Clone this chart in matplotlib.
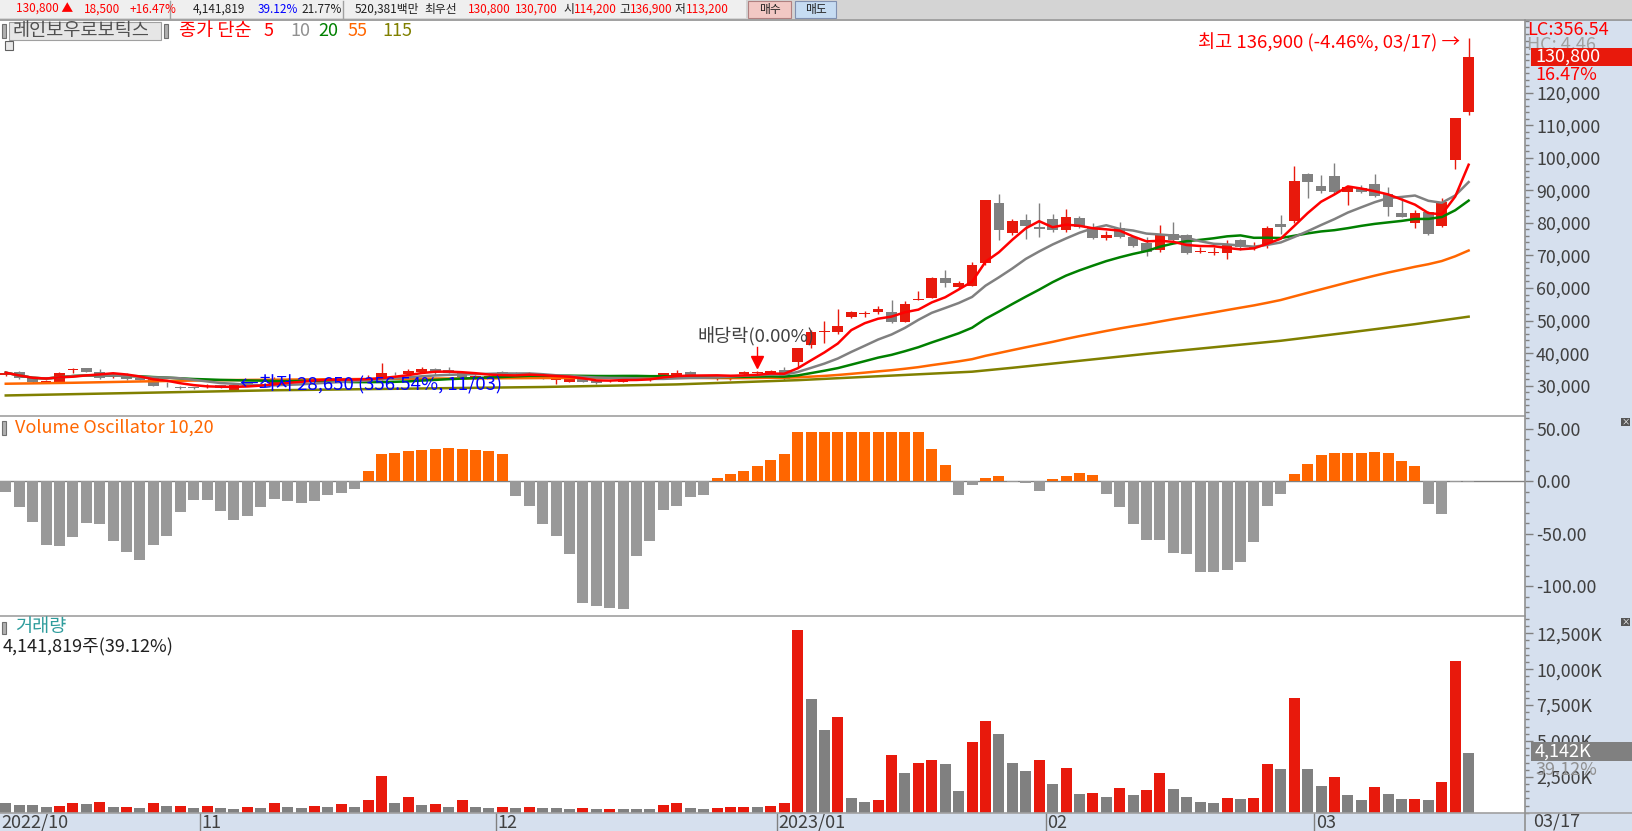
import numpy as np
import pandas as pd
import matplotlib
matplotlib.use("Agg")
import matplotlib.pyplot as plt
from matplotlib.patches import Rectangle
from matplotlib.lines import Line2D
from matplotlib.ticker import MultipleLocator, FuncFormatter

plt.rcParams['font.family'] = ['Noto Sans CJK KR', 'DejaVu Sans']

W, H = 1632, 831

# ---- daily candles 2022/10/11 .. 2023/03/17 (110 sessions) ----
opens = [
    # Oct
    33200, 34300, 32600, 31100, 31200, 34900, 35300, 34200, 32800, 33700, 32500, 32400, 30500, 29500, 29300,
    # Nov
    29500, 30200, 28700, 30900, 30000, 30200, 32000, 31600, 31800, 32100, 31700, 32000, 31900, 32100, 33850,
    33600, 34300, 35000, 34800, 33800, 32300, 32600,
    # Dec
    34200, 34000, 33100, 33500, 31700, 31200, 32500, 31400, 31400, 31100, 31800, 32000, 32300, 33300, 34200,
    33200, 32200, 32100, 33500, 33800, 33900,
    # Jan
    34900, 37400, 42500, 46400, 46400, 51200, 52000, 52600, 52500, 49700, 56300, 57000, 63200, 60400, 60700,
    67600, 86100, 77000, 80900, 78800,
    # Feb
    81200, 77800, 81600, 78800, 75500, 78300, 75800, 73800, 71700, 76500, 76200, 71200, 70700, 70600, 74700,
    72300, 73200, 79700, 80700, 95000,
    # Mar
    91300, 94400, 89600, 90800, 91900, 88900, 83100, 80100, 83300, 79100, 99300, 114200,
]
highs = [
    34300, 34500, 32700, 31800, 34200, 35500, 35500, 35000, 33600, 33900, 32700, 32600, 31100, 29900, 29500,
    30500, 30300, 30300, 31000, 30700, 32800, 32300, 32000, 32400, 32200, 32200, 32200, 33300, 37000, 34300,
    35000, 35600, 35300, 35600, 34000, 33200, 33300,
    34400, 34200, 34100, 33800, 32100, 32400, 32700, 31500, 31900, 32700, 32600, 32400, 34000, 34800, 34400,
    33400, 32500, 33300, 34500, 34500, 34800,
    35600, 41500, 47000, 50000, 53500, 53000, 52800, 54500, 56300, 56000, 59200, 63500, 65500, 62000, 68000,
    87100, 88900, 81200, 82700, 86100,
    82700, 84200, 82000, 79900, 77500, 80200, 76000, 75800, 79400, 80300, 76500, 72500, 72500, 74700, 74900,
    74200, 79000, 82400, 97500, 95200,
    94600, 98300, 91300, 91500, 95000, 90900, 87500, 84000, 83500, 87500, 112300, 136900,
]
lows = [
    33000, 32000, 30800, 30900, 31000, 34000, 34100, 32000, 32500, 31800, 31700, 29900, 29700, 28900, 29000,
    29300, 29300, 28650, 29900, 29800, 30100, 31400, 31300, 31600, 31500, 31500, 31700, 31700, 31900, 33300,
    33000, 33800, 33300, 33800, 32600, 32000, 32400,
    33200, 33300, 32900, 32000, 30400, 31000, 31100, 30600, 31200, 31000, 31600, 31300, 32100, 33200, 33200,
    32500, 31900, 31900, 33300, 33600, 33700,
    31800, 35800, 41500, 43000, 46000, 50800, 51000, 52000, 49400, 49500, 56300, 56800, 60200, 60000, 60500,
    67000, 74700, 76300, 75100, 75800,
    77100, 77100, 78500, 75000, 74800, 75500, 72500, 69900, 71200, 74500, 70500, 70600, 70100, 68900, 71700,
    71700, 72200, 76600, 80000, 87500,
    89300, 89000, 85500, 89200, 88000, 82200, 81900, 78500, 76300, 78800, 96400, 113200,
]
closes = [
    34000, 32300, 31000, 31500, 34000, 35000, 34300, 32500, 33300, 32100, 31900, 30000, 30400, 29400, 29200,
    30000, 29400, 30200, 30000, 30500, 32000, 31600, 31800, 32100, 31700, 32000, 31900, 32300, 33800, 33750,
    34500, 35100, 34300, 34000, 32800, 33000, 33000,
    33400, 33600, 34000, 32100, 31800, 32300, 31200, 30700, 31800, 32600, 32500, 32100, 33800, 33800, 33300,
    32700, 32300, 33200, 34300, 34300, 34600,
    31950, 41500, 46600, 46450, 48300, 52500, 52100, 53500, 49700, 55000, 56500, 63200, 61400, 61600, 67000,
    87100, 77800, 80600, 79100, 78000,
    77800, 81800, 78800, 75400, 76300, 75800, 72900, 71200, 76300, 74700, 70900, 71400, 70900, 73500, 72700,
    72400, 78400, 78700, 92900, 92500,
    89900, 89600, 91100, 89600, 88400, 85000, 81900, 83100, 76700, 86400, 112300, 130800,
]

# volume in thousand shares
volume_k = [
    680, 540, 540, 400, 470, 650, 580, 720, 370, 390, 300, 650, 470, 500, 330,
    470, 300, 290, 370, 300, 650, 370, 300, 470, 370, 580, 370, 860, 2580, 650, 1070, 510, 580, 370, 860, 370, 300,
    370, 300, 370, 340, 300, 230, 300, 230, 240, 230, 230, 230, 510, 650, 300, 230, 300, 370, 380, 370, 440,
    650, 12700, 7900, 5800, 6700, 1000, 750, 860, 4000, 2800, 3500, 3700, 3400, 1500, 4900, 6400, 5500, 3500, 2900, 3700,
    2000, 3100, 1330, 1350, 1100, 1700, 1250, 1560, 2800, 1650, 1100, 750, 650, 1000, 930, 1000, 3420, 3070, 8000, 3070,
    1840, 2500, 1210, 860, 1770, 1280, 930, 940, 860, 2160, 10540, 4142,
]

# Volume Oscillator 10,20
vol_osc = [
    -10, -25, -39, -61, -62, -53, -40, -41, -57, -67, -75, -61, -52, -29, -18,
    -18, -28, -37, -33, -25, -17, -19, -21, -19, -13, -11, -7, 10,
    26, 27, 29, 30, 31, 32, 31, 30, 29, 26,
    -14, -24, -41, -52, -69, -116, -119, -121, -122, -71, -57, -27, -24, -15, -13,
    3, 7, 10, 14, 20, 26,
    47, 47, 47, 47, 47, 47, 47, 47, 47, 47,
    31, 15, -13, -4, 3, 5, -1, -2, -9, 2, 5, 8, 6,
    -12, -25, -41, -56, -56, -68, -69, -86, -86, -85, -77, -58, -24, -12,
    7, 16, 25, 27, 27, 27, 28, 27, 19, 14, -22, -31, -1, -1,
]

# long moving averages (history before the window is not shown)
ma55_head_idx = [0, 5, 10, 15, 20, 25, 30, 35, 40, 45, 50]
ma55_head = [30600, 30900, 31300, 31650, 31850, 32000, 32150, 32250, 32350, 32400, 32400]
ma115_idx = [0, 10, 20, 30, 40, 50, 59, 67, 72, 75, 85, 95, 100, 105, 109]
ma115_val = [27000, 27800, 28600, 29100, 29600, 30400, 31700, 33300, 34300, 35500, 39800, 43800, 46300, 48900, 51200]

month_labels = ["2022/10", "11", "12", "2023/01", "02", "03"]
month_start = [0, 15, 37, 58, 78, 98]

RED = '#e8190c'
GREY = '#808080'
TXT = '#404040'
FS = 13      # chart text
FS_K = 13.4  # hangul labels
FS_T = 12.8  # axis tick labels

n = len(closes)
idx = np.arange(n)
cs = pd.Series(closes, dtype=float)
ma5 = cs.rolling(5, min_periods=1).mean()
ma10 = cs.rolling(10, min_periods=1).mean()
ma20 = cs.rolling(20, min_periods=1).mean()
ma55 = cs.rolling(55).mean()

fig = plt.figure(figsize=(W / 100, H / 100), dpi=100)
fig.patch.set_facecolor('white')


def box(x0, y0, x1, y1):
    return [x0 / W, 1 - y1 / H, (x1 - x0) / W, (y1 - y0) / H]


def ftext(px, py, s, **kw):
    kw.setdefault('va', 'center')
    kw.setdefault('fontsize', FS)
    return fig.text(px / W, 1 - py / H, s, **kw)


def frect(x0, y0, x1, y1, **kw):
    r = Rectangle((x0 / W, 1 - y1 / H), (x1 - x0) / W, (y1 - y0) / H, transform=fig.transFigure, **kw)
    fig.add_artist(r)
    return r


def fline(x0, y0, x1, y1, **kw):
    fig.add_artist(Line2D([x0 / W, x1 / W], [1 - y0 / H, 1 - y1 / H], transform=fig.transFigure, **kw))


# backgrounds
frect(1525, 20, W, H, facecolor='#d6e0ee', edgecolor='none', zorder=-2)
frect(0, 813, W, H, facecolor='#d6e0ee', edgecolor='none', zorder=-2)
frect(0, 0, W, 19, facecolor='#d4d4d4', edgecolor='none', zorder=-2)
frect(0, 0, 746, 18, facecolor='#efefef', edgecolor='none', zorder=-1)

ax_p = fig.add_axes(box(0, 20, 1525, 416))
ax_o = fig.add_axes(box(0, 416, 1525, 616))
ax_v = fig.add_axes(box(0, 616, 1525, 813))
ax_x = fig.add_axes(box(0, 813, 1525, 831))

xlim = (-0.43, 113.2)
for ax in (ax_p, ax_o, ax_v, ax_x):
    ax.set_xlim(*xlim)
    for sp in ax.spines.values():
        sp.set_visible(False)
    ax.tick_params(axis='x', bottom=False, labelbottom=False)
ax_x.set_facecolor('none')
ax_x.set_ylim(0, 1)
ax_x.tick_params(axis='y', left=False, labelleft=False)

for ax in (ax_p, ax_o, ax_v):
    ax.yaxis.tick_right()
    ax.tick_params(axis='y', which='major', length=6, width=1, color='#808080', labelsize=FS_T,
                   labelcolor=TXT, pad=2, direction='out')
    ax.tick_params(axis='y', which='minor', length=3, width=1, color='#808080', direction='out')

# ---- price panel ----
o = np.array(opens, float)
c = np.array(closes, float)
up = c >= o
ccol = np.where(up, RED, GREY)
body_lo = np.minimum(o, c)
body_h = np.maximum(np.abs(c - o), 260)
ax_p.vlines(idx, lows, highs, colors=ccol, linewidth=1, zorder=2)
ax_p.bar(idx, body_h, bottom=body_lo, width=0.8, color=ccol, linewidth=0, zorder=2)

ax_p.plot(ma115_idx, ma115_val, color='#808000', lw=1.8, zorder=3)
ax_p.plot(ma55_head_idx + [54], ma55_head + [ma55[54]], color='#ff6600', lw=1.8, zorder=3)
ax_p.plot(idx[54:], ma55[54:], color='#ff6600', lw=1.8, zorder=3)
ax_p.plot(idx, ma20, color='#008000', lw=1.8, zorder=3)
ax_p.plot(idx, ma10, color='#808080', lw=1.8, zorder=3)
ax_p.plot(idx, ma5, color='#ff0000', lw=1.8, zorder=3)

ax_p.set_ylim(20695, 142300)
ax_p.set_yticks(range(30000, 130000, 10000))
ax_p.yaxis.set_minor_locator(MultipleLocator(2000))
ax_p.yaxis.set_major_formatter(FuncFormatter(lambda v, p: f"{v:,.0f}"))

# high / low / ex-dividend marks
hi_i = int(np.argmax(highs))
lo_i = int(np.argmin(lows))
ax_p.text(hi_i - 0.65, highs[hi_i] - 1600, f"최고 {highs[hi_i]:,} (-4.46%, 03/17) →", color='#ff0000',
          fontsize=FS_K, ha='right', va='center', zorder=5)
ax_p.text(lo_i + 0.42, lows[lo_i] + 1500, f"←최저 {lows[lo_i]:,} (356.54%, 11/03)", color='#0000ff',
          fontsize=FS_K, ha='left', va='center', zorder=5)
ax_p.text(55.9, 44960, "배당락(0.00%)", color=TXT, fontsize=FS_K, ha='center', va='center', zorder=5)
ax_p.plot([56, 56], [41900, 37600], color='#ff0000', lw=1, zorder=5)
ax_p.plot([56], [37300], marker='v', color='#ff0000', markersize=8, zorder=5)

# ---- volume oscillator ----
vo = np.array(vol_osc, float)
ax_o.bar(idx, vo, width=0.82, color=np.where(vo > 0, '#ff6600', '#999999'), linewidth=0, zorder=2)
ax_o.axhline(0, color='#808080', lw=1, zorder=1)
ax_o.set_ylim(-128.3, 62)
ax_o.set_yticks([50, 0, -50, -100])
ax_o.yaxis.set_minor_locator(MultipleLocator(10))
ax_o.yaxis.set_major_formatter(FuncFormatter(lambda v, p: f"{v:.2f}"))

# ---- volume ----
vk = np.array(volume_k, float)
vcol = [GREY] + [RED if vk[i] > vk[i - 1] else GREY for i in range(1, n)]
ax_v.bar(idx, vk, width=0.82, color=vcol, linewidth=0, zorder=2)
ax_v.set_ylim(-14, 13705)
ax_v.set_yticks([2500, 5000, 7500, 10000, 12500])
ax_v.yaxis.set_minor_locator(MultipleLocator(500))
ax_v.yaxis.set_major_formatter(FuncFormatter(lambda v, p: f"{v:,.0f}K"))

# ---- date strip ----
for s, lab in zip(month_start, month_labels):
    if s > 0:
        ax_x.axvline(s - 0.5, color='#808080', lw=1)
        ax_x.text(s - 0.4, 0.45, lab, fontsize=FS, color=TXT, va='center', ha='left')
    else:
        ax_x.text(-0.3, 0.45, lab, fontsize=FS, color=TXT, va='center', ha='left')
ftext(1533, 822, "03/17", color=TXT)

# ---- frame lines ----
fline(0, 19.5, W, 19.5, color='#909090', lw=1.2, zorder=6)
fline(0, 416, 1525, 416, color='#a0a0a0', lw=1.2, zorder=6)
fline(0, 616, 1525, 616, color='#a0a0a0', lw=1.2, zorder=6)
fline(0, 813, W, 813, color='#a0a0a0', lw=1.2, zorder=6)
fline(1525, 20, 1525, H, color='#909090', lw=1.2, zorder=6)

# ---- right-hand value boxes ----
ftext(1527, 30, "LC:356.54", color='#ff0000', zorder=4)
ftext(1527, 45, "HC: 4.46", color='#a0a0a0', zorder=4)
frect(1531, 48, W, 66, facecolor=RED, edgecolor='none', zorder=5)
ftext(1535, 57, f"{closes[-1]:,}", color='white', zorder=6)
ftext(1535, 75, "16.47%", color='#ff0000', zorder=6)
frect(1531, 742, W, 761, facecolor='#808080', edgecolor='none', zorder=5)
ftext(1535, 751.5, f"{volume_k[-1]:,}K", color='white', zorder=6)
ftext(1535, 770, "39.12%", color='#909090', zorder=6)
for yy in (418, 618):
    frect(1621, yy, 1630, yy + 8, facecolor='#555555', edgecolor='none', zorder=6)
    ftext(1625.5, yy + 4, "×", color='white', fontsize=6, ha='center', zorder=7)

# ---- panel headers ----
frect(2, 24, 6, 38, facecolor='#b0b0b0', edgecolor='#707070', lw=0.8, zorder=5)
frect(9, 22, 161, 40, facecolor='#e6e6e6', edgecolor='#a0a0a0', lw=0.8, zorder=5)
ftext(13, 31, "레인보우로보틱스", color='#505050', fontsize=FS_K, zorder=6)
frect(164, 24, 168, 38, facecolor='#b0b0b0', edgecolor='#707070', lw=0.8, zorder=5)
ftext(179, 31, "종가 단순", color='#ff0000', fontsize=FS_K, zorder=6)
ftext(264, 31, "5", color='#ff0000', zorder=6)
ftext(290, 31, "10", color='#909090', zorder=6)
ftext(318, 31, "20", color='#008000', zorder=6)
ftext(348, 31, "55", color='#ff6600', zorder=6)
ftext(382, 31, "115", color='#808000', zorder=6)
frect(5, 41, 13, 50, facecolor='#e8e8e8', edgecolor='#606060', lw=0.8, zorder=5)

frect(2, 421, 6, 435, facecolor='#b0b0b0', edgecolor='#707070', lw=0.8, zorder=5)
ftext(15, 428, "Volume Oscillator 10,20", color='#ff6600', zorder=6)
frect(2, 622, 6, 634, facecolor='#b0b0b0', edgecolor='#707070', lw=0.8, zorder=5)
ftext(15, 627, "거래량", color='#2e9c9c', fontsize=FS_K, zorder=6)
ftext(3, 647, "4,141,819주(39.12%)", color='#202020', zorder=6)

# ---- top quote bar ----
top_items = [
    (16, "130,800 ▲", '#ff0000'), (84, "18,500", '#ff0000'), (130, "+16.47%", '#ff0000'),
    (193, "4,141,819", '#202020'), (258, "39.12%", '#0000ff'), (301, "21.77%", '#202020'),
    (355, "520,381백만", '#202020'), (424, "최우선", '#202020'), (468, "130,800", '#ff0000'),
    (515, "130,700", '#ff0000'), (563, "시", '#202020'), (574, "114,200", '#ff0000'),
    (619, "고", '#202020'), (630, "136,900", '#ff0000'), (675, "저", '#202020'), (686, "113,200", '#ff0000'),
]
for xx, s, col in top_items:
    ftext(xx, 9.5, s, color=col, fontsize=8.5, zorder=6)
for xx in (170, 343):
    fline(xx, 1, xx, 18, color='#a0a0a0', lw=1, zorder=6)
frect(748, 1, 791, 18, facecolor='#f2c8c4', edgecolor='#b08080', lw=0.8, zorder=5)
ftext(769.5, 9.5, "매수", color='#202020', fontsize=8.5, ha='center', zorder=6)
frect(795, 1, 836, 18, facecolor='#c6dcf2', edgecolor='#8090b0', lw=0.8, zorder=5)
ftext(815.5, 9.5, "매도", color='#202020', fontsize=8.5, ha='center', zorder=6)

fig.savefig("out.png", dpi=100)
